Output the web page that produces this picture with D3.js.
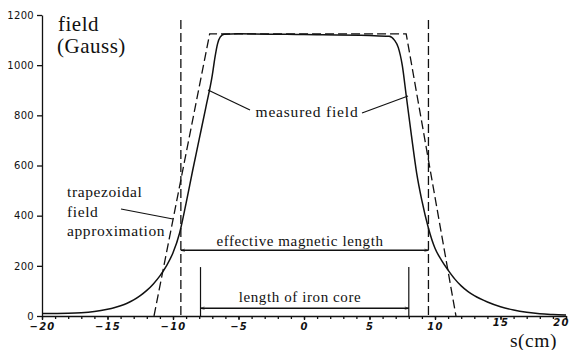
<!DOCTYPE html>
<html>
<head>
<meta charset="utf-8">
<script src="https://cdn.jsdelivr.net/npm/d3@7"></script>
<style>
  body { margin: 0; background: #fff; }
  svg { display: block; }
  .lbl { font-family: "Liberation Serif", "DejaVu Serif", serif; fill: #111; }
  .tick text { font-family: "DejaVu Sans", sans-serif; fill: #111; }
</style>
</head>
<body>
<div id="chart"></div>
<script>
// measured field profile, s in cm, B in Gauss
const measuredS = [-20, -18, -17, -16, -15, -14.5, -14, -13.5, -13, -12.5, -12, -11.5, -11, -10.5, -10, -9.5, -9, -8.5, -8, -7.5, -7, -6.8, -6.6, -6.4, -6.1, -5, 0, 5, 6.5, 6.9, 7.2, 7.5, 7.8, 8.2, 8.6, 9, 9.5, 10, 10.5, 11, 11.5, 12, 12.5, 13, 14, 15, 16, 17, 18, 19, 20];
const measuredB = [10, 11, 13, 18, 27, 33, 41, 51, 64, 81, 102, 128, 160, 200, 252, 330, 450, 580, 705, 830, 960, 1030, 1085, 1112, 1123, 1125, 1122, 1118, 1115, 1100, 1070, 1000, 880, 720, 570, 460, 350, 270, 222, 183, 148, 120, 98, 81, 56, 37, 24, 15, 9, 6, 4];

// trapezoidal approximation
const trapS = [-11.45, -7.2, 7.8, 11.6];
const trapB = [0, 1125, 1125, 0];

// effective length edges and iron core edges
const effEdges = [-9.4, 9.5];
const coreEdges = [-7.9, 8.0];

const xTicks = [-20, -15, -10, -5, 0, 5, 10, 15, 20];
const yTicks = [0, 200, 400, 600, 800, 1000, 1200];

const width = 573, height = 350;
const ink = "#111";

const svg = d3.select("#chart").append("svg")
    .attr("width", width).attr("height", height);

const x = d3.scaleLinear().domain([-20, 20]).range([42, 566]);
const y = d3.scaleLinear().domain([0, 1200]).range([316, 15]);

const defs = svg.append("defs");
["end", "start"].forEach(k => {
    defs.append("marker")
        .attr("id", "arr-" + k)
        .attr("viewBox", "0 0 10 10")
        .attr("refX", k === "end" ? 10 : 0).attr("refY", 5)
        .attr("markerWidth", 9).attr("markerHeight", 4)
        .attr("markerUnits", "userSpaceOnUse")
        .attr("orient", "auto")
        .append("path")
        .attr("d", k === "end" ? "M0,2L10,5L0,8" : "M10,2L0,5L10,8")
        .attr("fill", "none").attr("stroke", ink).attr("stroke-width", 1.5);
});

// axes
const xAxis = svg.append("g")
    .attr("transform", `translate(0,${y(0)})`)
    .call(d3.axisBottom(x).tickValues(xTicks).tickSize(4).tickPadding(3).tickSizeOuter(0));
svg.append("g")
    .attr("transform", `translate(0,${y(0)})`)
    .call(d3.axisBottom(x).tickValues(d3.range(-20, 21, 1)).tickSize(3).tickFormat("").tickSizeOuter(0))
    .call(g => g.select(".domain").remove());
xAxis.selectAll(".tick text")
    .style("font-size", "10px").style("font-style", "italic").style("font-weight", "bold")
    .style("letter-spacing", "1.2px");
xAxis.selectAll(".tick").filter(d => d >= 15).select("text").attr("y", 3);
xAxis.selectAll(".tick").filter(d => d === 20).select("text").attr("dx", "-5");

const yAxis = svg.append("g")
    .attr("transform", `translate(${x(-20)},0)`)
    .call(d3.axisLeft(y).tickValues(yTicks).tickFormat(d3.format("d")).tickSize(5).tickPadding(3).tickSizeOuter(0));
yAxis.selectAll(".tick text").style("font-size", "10px").style("letter-spacing", "0.3px");
svg.selectAll(".domain, .tick line").attr("stroke", ink).attr("stroke-width", 1.3);

// measured field
const line = d3.line().x(d => x(d[0])).y(d => y(d[1])).curve(d3.curveMonotoneX);
svg.append("path")
    .datum(measuredS.map((s, i) => [s, measuredB[i]]))
    .attr("d", line)
    .attr("fill", "none").attr("stroke", ink).attr("stroke-width", 1.5);

// trapezoid
svg.append("path")
    .datum(trapS.map((s, i) => [s, trapB[i]]))
    .attr("d", d3.line().x(d => x(d[0])).y(d => y(d[1])))
    .attr("fill", "none").attr("stroke", ink).attr("stroke-width", 1.3)
    .attr("stroke-dasharray", "9,4");

// vertical dashed lines at effective length edges
svg.selectAll(".effv").data(effEdges).enter().append("line")
    .attr("x1", d => x(d)).attr("x2", d => x(d))
    .attr("y1", y(1180)).attr("y2", y(0))
    .attr("stroke", ink).attr("stroke-width", 1.3).attr("stroke-dasharray", "9,4");

// iron core edges
svg.selectAll(".corev").data(coreEdges).enter().append("line")
    .attr("x1", d => x(d)).attr("x2", d => x(d))
    .attr("y1", y(195)).attr("y2", y(0))
    .attr("stroke", ink).attr("stroke-width", 1.2);

// dimension arrows
svg.append("line")
    .attr("x1", x(effEdges[0])).attr("x2", x(effEdges[1]))
    .attr("y1", y(262)).attr("y2", y(262))
    .attr("stroke", ink).attr("stroke-width", 1.6)
    .attr("marker-start", "url(#arr-start)").attr("marker-end", "url(#arr-end)");
svg.append("line")
    .attr("x1", x(coreEdges[0])).attr("x2", x(coreEdges[1]))
    .attr("y1", y(31)).attr("y2", y(31))
    .attr("stroke", ink).attr("stroke-width", 1.6)
    .attr("marker-start", "url(#arr-start)").attr("marker-end", "url(#arr-end)");

// labels
const text = (tx, ty, str, size, anchor, ls) => svg.append("text")
    .attr("class", "lbl").attr("x", tx).attr("y", ty)
    .attr("text-anchor", anchor || "start")
    .style("font-size", size + "px").style("letter-spacing", (ls || 0.6) + "px")
    .text(str);

text(58, 31, "field", 21, "start", 0.5);
text(57, 53, "(Gauss)", 21, "start", 0.5);
text(510, 347, "s(cm)", 19.5, "start", 0.5);

text(300, 246, "effective magnetic length", 15, "middle");
text(300, 302, "length of iron core", 15, "middle");
text(307, 117, "measured field", 15.5, "middle", 0.8);
text(67, 197, "trapezoidal", 15.5);
text(67, 217, "field", 15.5);
text(67, 236, "approximation", 15.5);

// leader lines
const leaders = [
    [[250, 110], [208, 90]],
    [[362, 113], [408, 96]],
    [[121, 209], [173, 219]]
];
svg.selectAll(".leader").data(leaders).enter().append("line")
    .attr("x1", d => d[0][0]).attr("y1", d => d[0][1])
    .attr("x2", d => d[1][0]).attr("y2", d => d[1][1])
    .attr("stroke", ink).attr("stroke-width", 1.2);
</script>
</body>
</html>
